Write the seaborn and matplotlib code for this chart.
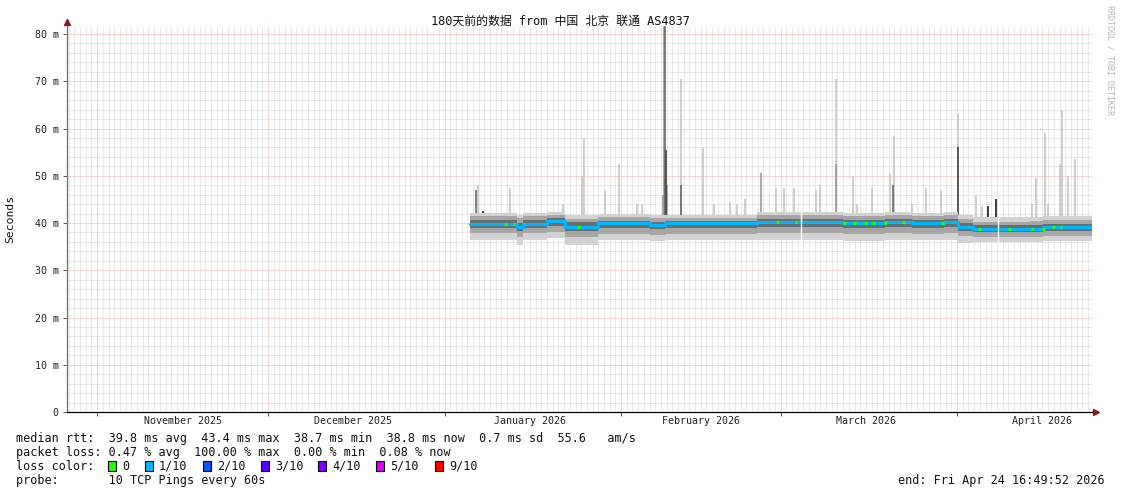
import numpy as np
import pandas as pd
import matplotlib
matplotlib.use('Agg')
import matplotlib.pyplot as plt
import matplotlib.dates as mdates
from matplotlib.ticker import MultipleLocator, NullFormatter, FixedFormatter, FixedLocator
from matplotlib.patches import Rectangle
from matplotlib.transforms import blended_transform_factory
import seaborn as sns

W, H = 1121, 494

t_start = pd.Timestamp('2025-10-26 16:49:52')
t_end = pd.Timestamp('2026-04-24 16:49:52')

# step nodes of the median rtt (ms) and the smoke bands around it
node_times = ['2026-01-05 12:00', '2026-01-13 19:00', '2026-01-14 20:00', '2026-01-19 00:00',
              '2026-01-22 05:00', '2026-01-28 00:00', '2026-02-06 00:00', '2026-02-08 18:00',
              '2026-02-24 22:00', '2026-03-12 00:00', '2026-03-19 10:00', '2026-03-24 03:00',
              '2026-03-29 15:00', '2026-04-01 05:00', '2026-04-03 20:00', '2026-04-13 20:00',
              '2026-04-16 03:00', '2026-04-24 16:49']
median_ms = [39.7, 39.1, 39.7, 40.4, 39.2, 39.9, 39.5, 39.9, 40.3, 39.9, 40.3, 39.9,
             40.3, 39.2, 38.7, 38.8, 39.1, 39.1]
outer_hi = [42.1, 41.8, 42.1, 42.4, 41.6, 41.9, 41.8, 41.8, 42.3, 42.2, 42.3, 42.1,
            42.3, 41.6, 41.2, 41.3, 41.5, 41.5]
mid_hi = [41.4, 41.0, 41.4, 41.7, 40.9, 41.2, 41.1, 41.1, 41.6, 41.5, 41.6, 41.4,
          41.6, 40.8, 40.3, 40.4, 40.6, 40.6]
inner_hi = [40.6, 40.0, 40.6, 41.0, 40.2, 40.5, 40.3, 40.4, 40.8, 40.7, 40.9, 40.6,
            40.9, 40.0, 39.5, 39.6, 39.8, 39.8]
inner_lo = [38.9, 38.3, 38.9, 39.4, 38.3, 38.9, 38.7, 38.9, 39.1, 38.9, 39.1, 38.9,
            39.2, 38.3, 38.0, 38.1, 38.3, 38.3]
mid_lo = [37.8, 37.0, 37.8, 38.2, 37.1, 37.7, 37.5, 37.7, 37.9, 37.7, 37.9, 37.7,
          37.9, 37.2, 37.0, 37.1, 37.3, 37.3]
outer_lo = [36.4, 35.3, 36.4, 36.8, 35.3, 36.3, 36.2, 36.4, 36.5, 36.2, 36.4, 36.3,
            36.5, 35.8, 35.9, 36.0, 36.1, 36.1]

# spikes: time, top (ms), how many of the 10 pings reached it
spike_times = ['2026-01-06 14:00', '2026-01-06 22:00', '2026-01-07 19:00', '2026-01-12 13:00',
               '2026-01-21 20:00', '2026-01-25 04:00', '2026-01-25 13:00', '2026-01-29 05:00',
               '2026-01-31 16:00', '2026-02-03 20:00', '2026-02-04 17:00', '2026-02-08 10:00',
               '2026-02-08 14:00', '2026-02-08 18:00', '2026-02-08 22:00', '2026-02-09 03:00',
               '2026-02-11 14:00', '2026-02-11 14:00', '2026-02-15 11:00', '2026-02-17 09:00',
               '2026-02-20 04:00', '2026-02-21 10:00', '2026-02-22 19:00', '2026-02-25 15:00',
               '2026-02-27 13:00', '2026-02-28 06:00', '2026-03-01 16:00', '2026-03-03 10:00',
               '2026-03-07 07:00', '2026-03-08 00:00', '2026-03-10 19:00', '2026-03-10 19:00',
               '2026-03-13 19:00', '2026-03-14 12:00', '2026-03-17 03:00', '2026-03-20 07:00',
               '2026-03-20 19:00', '2026-03-21 00:00', '2026-03-24 03:00', '2026-03-26 14:00',
               '2026-03-29 06:00', '2026-04-01 05:00', '2026-04-01 05:00', '2026-04-04 09:00',
               '2026-04-05 11:00', '2026-04-06 12:00', '2026-04-07 22:00', '2026-04-14 05:00',
               '2026-04-14 22:00', '2026-04-16 12:00', '2026-04-17 01:00', '2026-04-19 03:00',
               '2026-04-19 12:00', '2026-04-20 13:00', '2026-04-21 18:00']
spike_top = [47.0, 48.0, 42.5, 47.5, 44.0, 50.0, 58.0, 47.0,
             52.5, 44.0, 44.0, 46.0, 81.7, 81.7, 55.5, 48.0,
             70.5, 48.0, 56.0, 44.0, 44.5, 44.0, 45.0, 50.5,
             42.0, 47.5, 47.5, 47.5, 47.0, 48.0, 70.5, 52.5,
             50.0, 44.0, 47.5, 50.5, 48.0, 58.5, 44.0, 47.5,
             47.0, 63.0, 56.0, 46.0, 43.5, 43.5, 45.0, 44.0,
             49.5, 59.0, 44.0, 52.5, 64.0, 50.0, 53.5]
spike_pings = [3, 1, 5, 1, 1, 1, 1, 1,
               1, 1, 1, 2, 2, 3, 4, 2,
               1, 3, 1, 1, 1, 1, 1, 2,
               5, 1, 1, 1, 1, 1, 1, 2,
               1, 1, 1, 1, 3, 1, 1, 1,
               1, 1, 4, 1, 1, 5, 5, 1,
               1, 1, 1, 1, 1, 1, 1]

# times where the median had no loss (green) and data gaps
green_times = ['2026-01-11 12:00', '2026-01-12 23:00', '2026-01-24 07:00', '2026-02-28 06:00',
               '2026-03-03 13:00', '2026-03-12 00:00', '2026-03-13 19:00', '2026-03-15 17:00',
               '2026-03-17 03:00', '2026-03-19 05:00', '2026-03-22 10:00', '2026-03-29 05:00',
               '2026-04-04 17:00', '2026-04-10 00:00', '2026-04-14 00:00', '2026-04-16 00:00',
               '2026-04-17 17:00', '2026-04-19 00:00']
gap_times = ['2026-03-04 14:00', '2026-04-08 04:00']

month_labels = ['November 2025', 'December 2025', 'January 2026', 'February 2026',
                'March 2026', 'April 2026']
month_mid = ['2025-11-16', '2025-12-16', '2026-01-16', '2026-02-15', '2026-03-16', '2026-04-16']
y_ticks = [0, 10, 20, 30, 40, 50, 60, 70, 80]
y_labels = ['0', '10 m', '20 m', '30 m', '40 m', '50 m', '60 m', '70 m', '80 m']

loss_labels = ['0', '1/10', '2/10', '3/10', '4/10', '5/10', '9/10']
loss_colors = ['#26ff00', '#00b8ff', '#0059ff', '#5e00ff', '#7e00ff', '#dd00ff', '#ff0000']

sns.set_style('white')
plt.rcParams['font.family'] = ['DejaVu Sans Mono', 'Noto Sans CJK SC']

fig = plt.figure(figsize=(W / 100, H / 100), dpi=100)
fig.patch.set_facecolor('white')
ax = fig.add_axes([67 / W, 82 / H, 1025 / W, 386 / H])

nt = pd.to_datetime(node_times)

# spikes, lighter first, behind the smoke
shade = {1: '#c6c6c6', 2: '#9a9a9a', 3: '#6a6a6a', 4: '#454545', 5: '#1a1a1a'}
sp = pd.DataFrame({'t': pd.to_datetime(spike_times), 'top': spike_top, 'n': spike_pings})
sp = sp.sort_values('n')
for _, r in sp.iterrows():
    ax.vlines(r['t'], 40.5, r['top'], colors=shade[r['n']], lw=1.2, zorder=2)

ax.fill_between(nt, outer_lo, outer_hi, step='post', color='#d2d2d2', lw=0, zorder=3)
ax.fill_between(nt, mid_lo, mid_hi, step='post', color='#a6a6a6', lw=0, zorder=4)
ax.fill_between(nt, inner_lo, inner_hi, step='post', color='#6c6c6c', lw=0, zorder=5)

df = pd.DataFrame({'t': nt, 'median': median_ms})
sns.lineplot(data=df, x='t', y='median', drawstyle='steps-post', color=loss_colors[1],
             lw=2.3, ax=ax, zorder=6)

gt = pd.to_datetime(green_times)
idx = np.searchsorted(nt.values, gt.values, side='right') - 1
gy = np.array(median_ms)[idx]
ax.hlines(gy, gt, gt + pd.Timedelta(hours=10), colors=loss_colors[0], lw=2.3, zorder=7)

ax.vlines(pd.to_datetime(gap_times), 35.0, 42.6, colors='white', lw=1.0, zorder=8)

ax.set_xlim(t_start, t_end)
ax.set_ylim(0, 81.7)
ax.set_xlabel('')
ax.set_ylabel('')

ax.xaxis.set_major_locator(mdates.MonthLocator())
ax.xaxis.set_major_formatter(NullFormatter())
ax.xaxis.set_minor_locator(mdates.DayLocator())
ax.yaxis.set_major_locator(FixedLocator(y_ticks))
ax.yaxis.set_major_formatter(FixedFormatter(y_labels))
ax.yaxis.set_minor_locator(MultipleLocator(2))

ax.grid(which='minor', color='#d4d4d4', lw=0.72, ls=(0, (1, 1)), zorder=0)
ax.grid(which='major', color='#ffa4a4', lw=0.72, ls=(0, (1, 1)), zorder=1)
ax.set_axisbelow(True)

ax.tick_params(axis='y', which='major', length=3, width=0.7, color='#555555',
               labelsize=7.2, labelcolor='#222222', pad=3, left=True)
ax.tick_params(axis='x', which='major', length=3, width=0.7, color='#555555', bottom=True)
ax.tick_params(which='minor', length=0)

for s in ['top', 'right']:
    ax.spines[s].set_visible(False)
ax.spines['left'].set_color('#6a6a6a')
ax.spines['left'].set_linewidth(0.9)
ax.spines['bottom'].set_color('#000000')
ax.spines['bottom'].set_linewidth(0.9)

ax.plot([0], [1 + 4 / 386], marker='^', ms=4, color='#8b1a1a', transform=ax.transAxes,
        clip_on=False)
ax.plot([1 + 4 / 1025], [0], marker='>', ms=4, color='#8b1a1a', transform=ax.transAxes,
        clip_on=False)

tr = blended_transform_factory(ax.transData, ax.transAxes)
for lab, d in zip(month_labels, month_mid):
    ax.text(pd.Timestamp(d), -9 / 386, lab, transform=tr, ha='center', va='center',
            fontsize=7.2, color='#222222')


def fx(px):
    return px / W


def fy(py):
    return 1 - py / H


fig.text(fx(560), fy(21), '180天前的数据 from 中国 北京 联通 AS4837', ha='center', va='center',
         fontsize=8.6, color='#111111')
fig.text(fx(10), fy(219), 'Seconds', rotation=90, ha='center', va='center', fontsize=8.2,
         color='#111111')
fig.text(fx(1110), fy(5), 'RRDTOOL / TOBI OETIKER', rotation=270, ha='center', va='top',
         fontsize=6.0, color='#b4b4b4')

fs = 8.5
fig.text(fx(16), fy(438), 'median rtt:  39.8 ms avg  43.4 ms max  38.7 ms min  38.8 ms now  0.7 ms sd  55.6   am/s',
         ha='left', va='center', fontsize=fs, color='#111111')
fig.text(fx(16), fy(452), 'packet loss: 0.47 % avg  100.00 % max  0.00 % min  0.08 % now',
         ha='left', va='center', fontsize=fs, color='#111111')
fig.text(fx(16), fy(466), 'loss color:', ha='left', va='center', fontsize=fs, color='#111111')
box_x = [108, 145, 203, 261, 318, 376, 435]
for bx, lab, c in zip(box_x, loss_labels, loss_colors):
    fig.patches.append(Rectangle((fx(bx), fy(471)), 8 / W, 10 / H, transform=fig.transFigure,
                                 facecolor=c, edgecolor='black', lw=0.8))
    fig.text(fx(bx + 14), fy(466), lab, ha='left', va='center', fontsize=fs, color='#111111')
fig.text(fx(16), fy(480), 'probe:       10 TCP Pings every 60s', ha='left', va='center',
         fontsize=fs, color='#111111')
fig.text(fx(1105), fy(480), 'end: Fri Apr 24 16:49:52 2026', ha='right', va='center',
         fontsize=fs, color='#111111')

fig.savefig('out.png', dpi=100, facecolor='white')
